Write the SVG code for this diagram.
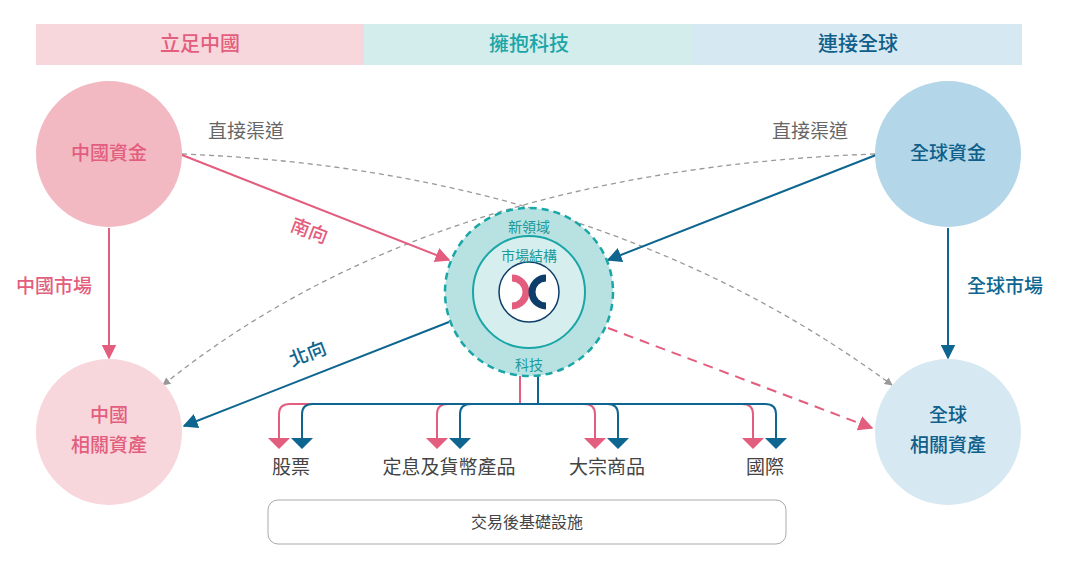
<svg xmlns="http://www.w3.org/2000/svg" width="1081" height="570" viewBox="0 0 1081 570">
<style>
text{font-family:"Noto Sans CJK TC","Noto Sans CJK SC",sans-serif}
.hd{font-size:20px;text-anchor:middle;font-weight:500}
.nl{font-size:19px;text-anchor:middle;font-weight:500}
.gl{font-size:19px;fill:#666;text-anchor:middle}
.pk{stroke:#e35d7e;fill:none;stroke-width:2}
.bl{stroke:#0e6690;fill:none;stroke-width:2}
.gd{stroke:#999;fill:none;stroke-width:1.3;stroke-dasharray:5 4}
</style>
<defs>
<marker id="ag" viewBox="0 0 10 10" refX="9" refY="5" markerWidth="8" markerHeight="8" orient="auto" markerUnits="userSpaceOnUse"><path d="M0 0L10 5L0 10z" fill="#999"/></marker>
<marker id="apb" viewBox="0 0 10 10" refX="9" refY="5" markerWidth="15" markerHeight="15" orient="auto" markerUnits="userSpaceOnUse"><path d="M0 0L10 5L0 10z" fill="#e35d7e"/></marker>
<marker id="abb" viewBox="0 0 10 10" refX="9" refY="5" markerWidth="15" markerHeight="15" orient="auto" markerUnits="userSpaceOnUse"><path d="M0 0L10 5L0 10z" fill="#0e6690"/></marker>
</defs>
<g id="header">
<rect x="36" y="24" width="328" height="41" fill="#f8d7dc"/>
<rect x="364" y="24" width="330" height="41" fill="#d3ecec"/>
<rect x="694" y="24" width="328" height="41" fill="#d6e8f2"/>
<text class="hd" x="200" y="51" fill="#e35d7e">立足中國</text>
<text class="hd" x="529" y="51" fill="#1aa6a6">擁抱科技</text>
<text class="hd" x="858" y="51" fill="#0e5f8a">連接全球</text>
</g>
<g id="connectors">
<path class="gd" d="M182 154 Q600 170 892 385" marker-end="url(#ag)"/>
<path class="gd" d="M875 154 Q430 170 163 385" marker-end="url(#ag)"/>
<path class="pk" d="M182 155 L449 260" marker-end="url(#apb)"/>
<path class="bl" d="M876 155 L608 260" marker-end="url(#abb)"/>
<path class="bl" d="M449 322 L184 426" marker-end="url(#abb)"/>
<path class="pk" d="M608 328 L872 428" stroke-dasharray="10 7" marker-end="url(#apb)"/>
<path class="pk" d="M109 228 V358" stroke-width="1.5" marker-end="url(#apb)"/>
<path class="bl" d="M948 228 V358" stroke-width="1.5" marker-end="url(#abb)"/>
<g stroke-width="1.3">
<path class="pk" d="M520 376 V404 M290 404 H742 M290 404 Q279 404 279 414 V440 M437 440 V414 Q437 404 448 404 M584 404 Q595 404 595 414 V440 M742 404 Q753 404 753 414 V440"/>
<path class="bl" d="M538 376 V404 M313 404 H765 M313 404 Q302 404 302 414 V440 M460 440 V414 Q460 404 471 404 M607 404 Q618 404 618 414 V440 M765 404 Q776 404 776 414 V440"/>
</g>
<g fill="#e35d7e"><path d="M268 438h22l-11 11z M426 438h22l-11 11z M584 438h22l-11 11z M742 438h22l-11 11z"/></g>
<g fill="#0e6690"><path d="M291 438h22l-11 11z M449 438h22l-11 11z M607 438h22l-11 11z M765 438h22l-11 11z"/></g>
</g>
<text class="gl" x="246" y="138">直接渠道</text>
<text class="gl" x="810" y="138">直接渠道</text>
<text class="nl" x="307" y="237" fill="#e35d7e" transform="rotate(21 307 237)">南向</text>
<text class="nl" x="310" y="360" fill="#0e6690" transform="rotate(-21 310 360)">北向</text>
<text class="nl" x="54" y="293" fill="#e35d7e">中國市場</text>
<text class="nl" x="1005" y="293" fill="#0e6690">全球市場</text>
<g id="n-cn-fund"><circle cx="109" cy="154" r="73" fill="#f2b9c2"/><text class="nl" x="109" y="160" fill="#e35d7e">中國資金</text></g>
<g id="n-gl-fund"><circle cx="948" cy="154" r="73" fill="#b3d6e8"/><text class="nl" x="948" y="160" fill="#0e5f8a">全球資金</text></g>
<g id="n-cn-asset"><circle cx="109" cy="432" r="73" fill="#f8d7dc"/><text class="nl" x="109" y="422" fill="#e35d7e">中國</text><text class="nl" x="109" y="452" fill="#e35d7e">相關資產</text></g>
<g id="n-gl-asset"><circle cx="948" cy="432" r="73" fill="#d6e8f2"/><text class="nl" x="948" y="422" fill="#0e5f8a">全球</text><text class="nl" x="948" y="452" fill="#0e5f8a">相關資產</text></g>
<g id="n-hub">
<circle cx="529" cy="292" r="84" fill="#b8e2e2" stroke="#1aa6a6" stroke-width="2.5" stroke-dasharray="7 5"/>
<circle cx="529" cy="292" r="56" fill="#d6eeee" stroke="#1aa6a6" stroke-width="2"/>
<circle cx="529" cy="292" r="30" fill="#fff" stroke="#0e3d6a" stroke-width="1.5"/>
<path d="M512 278 A14 14 0 0 1 512 306" fill="none" stroke="#e35d7e" stroke-width="7"/>
<path d="M546 278 A14 14 0 0 0 546 306" fill="none" stroke="#0e3d6a" stroke-width="7"/>
<text x="529" y="232" font-size="14" fill="#1a9a9a" text-anchor="middle">新領域</text>
<text x="529" y="261" font-size="14" fill="#1a9a9a" text-anchor="middle">市場結構</text>
<text x="529" y="370" font-size="14" fill="#1a9a9a" text-anchor="middle">科技</text>
</g>
<g fill="#444" font-size="19" text-anchor="middle">
<text x="291" y="474">股票</text><text x="449" y="474">定息及貨幣產品</text><text x="607" y="474">大宗商品</text><text x="765" y="474">國際</text>
</g>
<g id="n-post"><rect x="268" y="500" width="518" height="44" rx="10" fill="#fff" stroke="#aaa"/><text x="527" y="528" font-size="16" fill="#444" text-anchor="middle">交易後基礎設施</text></g>
</svg>
